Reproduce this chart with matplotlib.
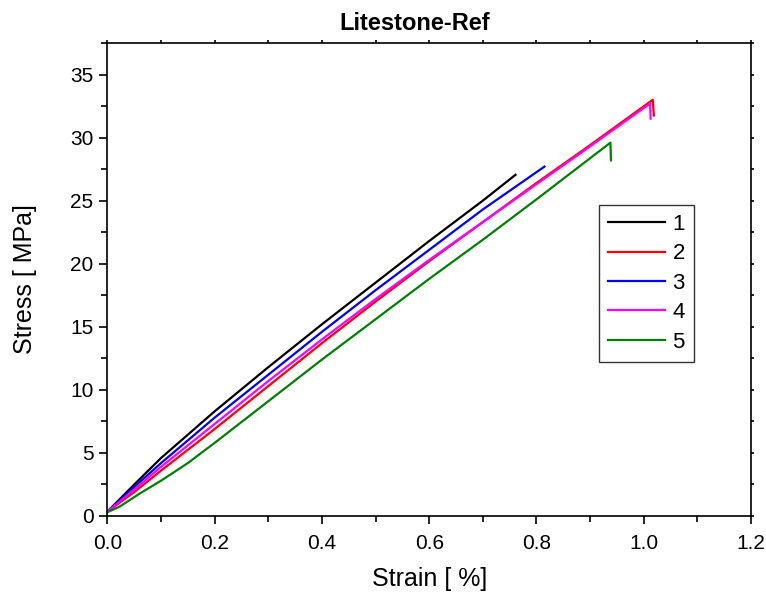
import matplotlib
matplotlib.use("Agg")
import matplotlib.pyplot as plt
from matplotlib.ticker import MultipleLocator, FormatStrFormatter

plt.rcParams['font.family'] = ['Liberation Sans', 'DejaVu Sans']

labels = ["1", "2", "3", "4", "5"]
colors = ["black", "red", "blue", "magenta", "green"]

strain_1 = [0.0, 0.05, 0.10, 0.20, 0.30, 0.40, 0.50, 0.60, 0.70, 0.761]
stress_1 = [0.35, 2.5, 4.6, 8.3, 11.8, 15.2, 18.5, 21.8, 25.0, 27.05]

strain_2 = [0.0, 0.05, 0.10, 0.20, 0.30, 0.40, 0.50, 0.60, 0.70, 0.80, 0.90, 1.017, 1.019]
stress_2 = [0.35, 1.9, 3.6, 6.9, 10.3, 13.7, 17.0, 20.2, 23.3, 26.4, 29.4, 33.0, 31.75]

strain_3 = [0.0, 0.05, 0.10, 0.20, 0.30, 0.40, 0.50, 0.60, 0.70, 0.815]
stress_3 = [0.35, 2.3, 4.2, 7.8, 11.2, 14.6, 17.9, 21.1, 24.3, 27.7]

strain_4 = [0.0, 0.05, 0.10, 0.20, 0.30, 0.40, 0.50, 0.60, 0.70, 0.80, 0.90, 1.012, 1.013]
stress_4 = [0.35, 2.1, 3.9, 7.3, 10.7, 14.0, 17.2, 20.3, 23.3, 26.3, 29.3, 32.7, 31.5]

strain_5 = [0.0, 0.023, 0.061, 0.10, 0.15, 0.20, 0.30, 0.40, 0.50, 0.60, 0.70, 0.80, 0.938, 0.939]
stress_5 = [0.3, 0.75, 1.8, 2.8, 4.2, 5.8, 9.1, 12.4, 15.6, 18.8, 21.9, 25.1, 29.6, 28.2]

strains = [strain_1, strain_2, strain_3, strain_4, strain_5]
stresses = [stress_1, stress_2, stress_3, stress_4, stress_5]

fig = plt.figure(figsize=(7.66, 6.03), dpi=100)
ax = fig.add_axes([0.1403, 0.1443, 0.8400, 0.7844])

for x, y, c, lab in zip(strains, stresses, colors, labels):
    ax.plot(x, y, color=c, lw=1.6, label=lab)

ax.set_xlim(0, 1.2)
ax.set_ylim(0, 37.5)
ax.xaxis.set_major_locator(MultipleLocator(0.2))
ax.xaxis.set_minor_locator(MultipleLocator(0.1))
ax.yaxis.set_major_locator(MultipleLocator(5))
ax.yaxis.set_minor_locator(MultipleLocator(2.5))
ax.xaxis.set_major_formatter(FormatStrFormatter('%.1f'))

for s in ax.spines.values():
    s.set_linewidth(1.2)

ax.tick_params(which='major', direction='out', length=6, width=1.2, labelsize=15,
               top=True, right=True)
ax.tick_params(which='minor', direction='out', length=4, width=1.2, top=True, right=True)
ax.tick_params(axis='x', which='major', pad=7)
ax.tick_params(axis='y', which='major', pad=4)
for t in ax.xaxis.get_ticklines(minor=False)[1::2] + ax.xaxis.get_ticklines(minor=True)[1::2]:
    t.set_markersize(2.5)
for t in ax.yaxis.get_ticklines(minor=False)[1::2] + ax.yaxis.get_ticklines(minor=True)[1::2]:
    t.set_markersize(2.5)

ax.set_xlabel("Strain [ %]", fontsize=18, labelpad=10)
ax.set_ylabel("Stress [ MPa]", fontsize=18, labelpad=24)
ax.set_title("Litestone-Ref", fontsize=17, fontweight='bold', pad=9, x=0.478)

leg = ax.legend(loc='upper left', bbox_to_anchor=(0.764, 0.6575), borderaxespad=0,
                fontsize=16, frameon=True, fancybox=False, handlelength=2.55,
                handletextpad=0.35, labelspacing=0.38, borderpad=0.4)
leg.get_frame().set_edgecolor('black')
leg.get_frame().set_linewidth(1.0)

fig.savefig("out.png", dpi=100)
